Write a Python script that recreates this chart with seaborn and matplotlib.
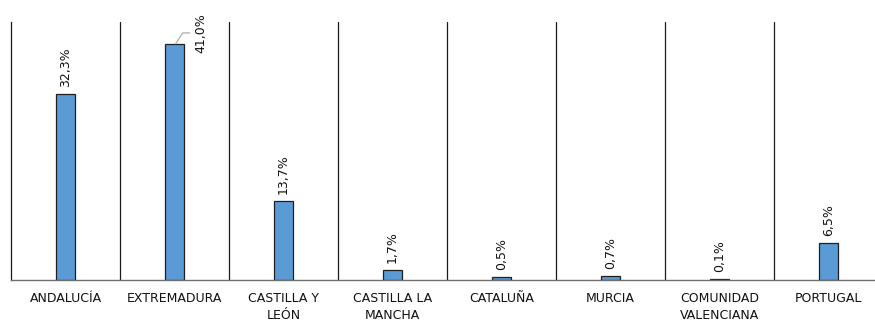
import matplotlib
matplotlib.use("Agg")
import matplotlib.pyplot as plt
import seaborn as sns
import pandas as pd

categories = ["ANDALUCÍA", "EXTREMADURA", "CASTILLA Y\nLEÓN", "CASTILLA LA\nMANCHA",
              "CATALUÑA", "MURCIA", "COMUNIDAD\nVALENCIANA", "PORTUGAL"]
values = [32.3, 41.0, 13.7, 1.7, 0.5, 0.7, 0.1, 6.5]
labels = ["32,3%", "41,0%", "13,7%", "1,7%", "0,5%", "0,7%", "0,1%", "6,5%"]

sns.set_theme(style="white")
plt.rcParams["font.family"] = ["DejaVu Sans"]

df = pd.DataFrame({"region": categories, "pct": values})

fig = plt.figure(figsize=(8.75, 3.22), dpi=100)
ax = fig.add_axes([11 / 875, 1 - 280 / 322, 872 / 875, 258 / 322])

sns.barplot(data=df, x="region", y="pct", color="#5B9BD5", width=0.18,
            edgecolor="#1f1f1f", linewidth=0.9, saturation=1, ax=ax)

ax.set_xlim(-0.5, len(categories) - 0.5)
ax.set_ylim(0, 44.8)

# separators between regions
for i in range(len(categories)):
    ax.axvline(i + 0.5, color="#1a1a1a", linewidth=0.9, zorder=0)

for side in ["top", "right"]:
    ax.spines[side].set_visible(False)
ax.spines["left"].set_color("#1a1a1a")
ax.spines["left"].set_linewidth(0.9)
ax.spines["bottom"].set_color("#6e6e6e")
ax.spines["bottom"].set_linewidth(1.0)

ax.set_yticks([])
ax.set_xlabel("")
ax.set_ylabel("")
ax.tick_params(axis="x", length=0, pad=9, labelsize=9, colors="#111111")
for t in ax.get_xticklabels():
    t.set_linespacing(1.35)
    t.set_verticalalignment("top")

# value labels
for i, (v, lab) in enumerate(zip(values, labels)):
    if i == 1:
        # label moved beside the tallest bar with a leader line
        ax.plot([i + 0.01, i + 0.075, i + 0.14], [v, v + 1.9, v + 1.9],
                color="#a6a6a6", linewidth=0.8, zorder=3)
        ax.annotate(lab, xy=(i + 0.14, v + 1.9), xytext=(3, 0),
                    textcoords="offset points", rotation=90,
                    ha="left", va="center", fontsize=9, color="#111111")
    else:
        ax.annotate(lab, xy=(i, v), xytext=(0, 5), textcoords="offset points",
                    rotation=90, ha="center", va="bottom", fontsize=9,
                    color="#111111")

fig.savefig("out.png", dpi=100)
